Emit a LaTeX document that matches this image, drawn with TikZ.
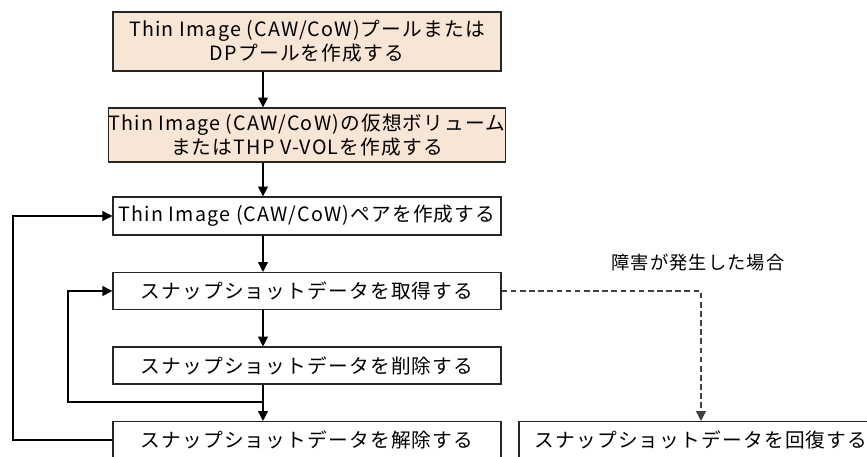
\documentclass[tikz,border=0pt]{standalone}
\usepackage{fontspec}
\setmainfont{Noto Sans CJK JP}
\newfontfamily\flowfont[LetterSpace=6]{Noto Sans CJK JP}
\usetikzlibrary{arrows.meta}
\definecolor{setupfill}{RGB}{247,229,214}
\tikzset{
  flowbox/.style = {draw=black!85, line width=0.9pt, align=center, inner sep=0pt,
    minimum width=9.7cm, minimum height=0.92cm,
    font=\flowfont\fontsize{14}{17}\selectfont},% ordinary step
  setupbox/.style = {flowbox, fill=setupfill},% preparation step
  flowline/.style = {line width=0.9pt, -{Triangle[length=7pt,width=7pt]}},
  faultline/.style = {flowline, dashed, dash pattern=on 4pt off 2.5pt, draw=black!75}
}
\begin{document}
\begin{tikzpicture}[x=0.025cm, y=-0.025cm]
  \useasboundingbox (0,0) rectangle (867,456);
  \node [setupbox, minimum height=1.475cm] (pool) at (307,41.5)
    {Thin Image (CAW/CoW)プールまたは\\DPプールを作成する};
  \node [setupbox, minimum height=1.35cm] (vvol) at (307,135)
    {Thin Image (CAW/CoW)の仮想ボリューム\\またはTHP V-VOLを作成する};
  \node [flowbox, minimum height=0.95cm] (pair) at (307,216)
    {Thin Image (CAW/CoW)ペアを作成する};
  \node [flowbox] (get) at (307,291) {スナップショットデータを取得する};
  \node [flowbox] (del) at (307,365.5) {スナップショットデータを削除する};
  \node [flowbox] (rel) at (307,440) {スナップショットデータを解除する};
  \node [flowbox, minimum width=9.1cm] (rec) at (701,440)
    {スナップショットデータを回復する};
  \node [font=\flowfont\fontsize{13}{15}\selectfont] (fault) at (698,263) {障害が発生した場合};

  \coordinate (axis) at (263,0);
  \coordinate (join) at (263,402);
  \coordinate (innerturn) at (68,402);
  \coordinate (outerturn) at (13,440);

  \draw [flowline] (pool.south -| axis) -- (vvol.north -| axis);
  \draw [flowline] (vvol.south -| axis) -- (pair.north -| axis);
  \draw [flowline] (pair.south -| axis) -- (get.north -| axis);
  \draw [flowline] (get.south -| axis) -- (del.north -| axis);
  \draw [flowline] (del.south -| axis) -- (rel.north -| axis);
  % loops back
  \draw [flowline] (join) -- (innerturn) |- (get.west);
  \draw [flowline] (rel.west) -- (outerturn) |- (pair.west);
  % recovery
  \draw [faultline] (get.east) -| (rec.north);
\end{tikzpicture}
\end{document}
